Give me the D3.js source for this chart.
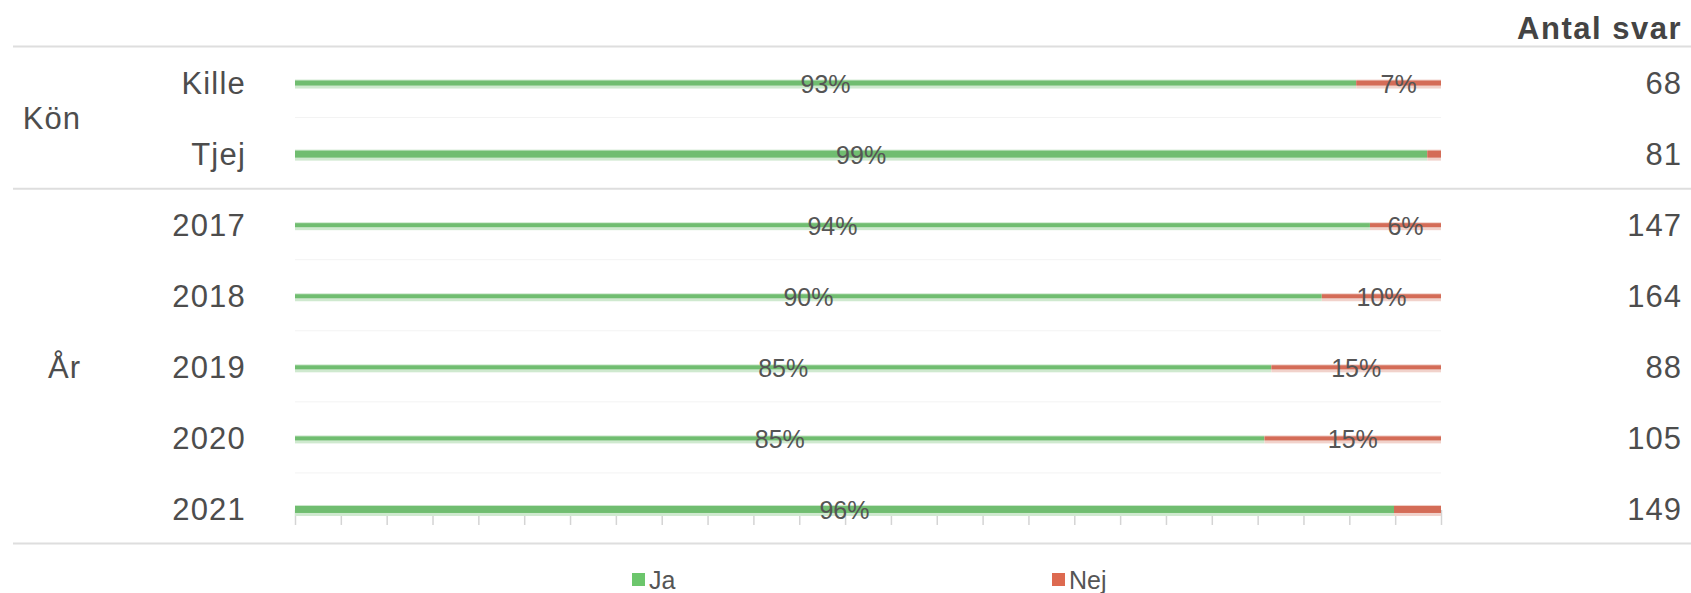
<!DOCTYPE html>
<html>
<head>
<meta charset="utf-8">
<script src="https://cdn.jsdelivr.net/npm/d3@7"></script>
<style>
  html, body { margin: 0; padding: 0; background: #ffffff; }
  svg { display: block; font-family: "Liberation Sans", Arial, sans-serif; }
</style>
</head>
<body>
<svg id="chart" width="1691" height="593"></svg>
<script>
// ---- data ----
const categories = ["Kille", "Tjej", "2017", "2018", "2019", "2020", "2021"];
const groupOf    = ["Kön", "Kön", "År", "År", "År", "År", "År"];
const groupNames = ["Kön", "År"];
const jaValues   = [92.6, 98.8, 93.8, 89.6, 85.2, 84.6, 95.9];
const nejValues  = [7.4, 1.2, 6.2, 10.4, 14.8, 15.4, 4.1];
const antalSvar  = [68, 81, 147, 164, 88, 105, 149];
const seriesNames = ["Ja", "Nej"];
const countHeader = "Antal svar";
const tickValues = d3.range(0, 101, 4);

// ---- styling / layout ----
const W = 1691, H = 593;
const colors = { Ja: "#70bd70", Nej: "#d46c57" };
const haloColors = { Ja: "#cfe9cf", Nej: "#f1d2cb" };
const legendColors = { Ja: "#6cc66c", Nej: "#dd6a50" };
const thickness = c => (c === "Tjej" || c === "2021") ? 7 : (c === "Kille" ? 5 : 4);
const textColor = "#4d4d4d";

const svg = d3.select("#chart");
svg.append("rect").attr("width", W).attr("height", H).attr("fill", "#fff");

const x = d3.scaleLinear().domain([0, 100]).range([295, 1441]);
const y = d3.scaleBand().domain(categories).range([47.5, 545]);

const rows = categories.map((c, i) => ({ cat: c, Ja: jaValues[i], Nej: nejValues[i], n: antalSvar[i], group: groupOf[i] }));
const stacked = d3.stack().keys(seriesNames)(rows);

// faint inner row gridlines
svg.append("g").selectAll("line")
  .data(categories.filter((c, i) => i > 0 && groupOf[i] === groupOf[i - 1]))
  .join("line")
  .attr("x1", x(0)).attr("x2", x(100))
  .attr("y1", d => y(d) - 1).attr("y2", d => y(d) - 1)
  .attr("stroke", "#f3f3f3").attr("stroke-width", 1);

// separators
const sepYs = [y.range()[0] - 1, y(categories[groupOf.indexOf("År")]) - 1, y.range()[1] - 1.5];
svg.append("g").selectAll("line").data(sepYs).join("line")
  .attr("x1", 13).attr("x2", W)
  .attr("y1", d => d).attr("y2", d => d)
  .attr("stroke", "#dedede").attr("stroke-width", 2);

// axis ticks under last row
const lastCat = categories[categories.length - 1];
const axisY = y(lastCat) + y.bandwidth() / 2 + thickness(lastCat) / 2 + 3;
const axisMinor = d3.axisBottom(x).tickValues(tickValues.filter(v => v % 20 !== 0)).tickSize(9).tickFormat("");
const axisMajor = d3.axisBottom(x).tickValues(tickValues.filter(v => v % 20 === 0)).tickSize(15).tickFormat("");
const gMinor = svg.append("g").attr("transform", `translate(0,${axisY})`).call(axisMinor);
const gMajor = svg.append("g").attr("transform", `translate(0,${axisY - 6})`).call(axisMajor);
[gMinor, gMajor].forEach(g => {
  g.select(".domain").remove();
  g.selectAll(".tick line").attr("stroke", "#d4d4d4").attr("stroke-width", 1.5);
});

// bars
const barG = svg.append("g");
stacked.forEach(series => {
  const key = series.key;
  const g = barG.append("g");
  g.selectAll("rect.halo").data(series).join("rect").attr("class", "halo")
    .attr("x", d => x(d[0])).attr("width", d => x(d[1]) - x(d[0]))
    .attr("y", d => y(d.data.cat) + y.bandwidth() / 2 - thickness(d.data.cat) / 2 - 1)
    .attr("height", d => thickness(d.data.cat) + 4)
    .attr("fill", haloColors[key]);
  g.selectAll("rect.bar").data(series).join("rect").attr("class", "bar")
    .attr("x", d => x(d[0])).attr("width", d => x(d[1]) - x(d[0]))
    .attr("y", d => y(d.data.cat) + y.bandwidth() / 2 - thickness(d.data.cat) / 2)
    .attr("height", d => thickness(d.data.cat))
    .attr("fill", colors[key]);
});

// percentage labels
stacked.forEach(series => {
  svg.append("g").selectAll("text").data(series.filter(d => d[1] - d[0] >= 5)).join("text")
    .attr("x", d => (x(d[0]) + x(d[1])) / 2)
    .attr("y", d => y(d.data.cat) + y.bandwidth() / 2 + 1)
    .attr("text-anchor", "middle").attr("dominant-baseline", "central")
    .attr("font-size", 25).attr("fill", "#555")
    .text(d => Math.round(d[1] - d[0]) + "%");
});

// category labels
svg.append("g").selectAll("text").data(categories).join("text")
  .attr("x", 246).attr("y", d => y(d) + y.bandwidth() / 2)
  .attr("text-anchor", "end").attr("dominant-baseline", "central")
  .attr("font-size", 31).attr("letter-spacing", 1.2).attr("fill", textColor)
  .text(d => d);

// group labels
svg.append("g").selectAll("text").data(groupNames).join("text")
  .attr("x", 81)
  .attr("y", gname => {
    const cs = categories.filter((c, i) => groupOf[i] === gname);
    return (y(cs[0]) + y(cs[cs.length - 1]) + y.bandwidth()) / 2;
  })
  .attr("text-anchor", "end").attr("dominant-baseline", "central")
  .attr("font-size", 31).attr("letter-spacing", 1).attr("fill", textColor)
  .text(d => d);

// counts
svg.append("g").selectAll("text").data(rows).join("text")
  .attr("x", 1682).attr("y", d => y(d.cat) + y.bandwidth() / 2)
  .attr("text-anchor", "end").attr("dominant-baseline", "central")
  .attr("font-size", 31).attr("letter-spacing", 1).attr("fill", textColor)
  .text(d => d.n);

// header
svg.append("text").attr("x", 1682).attr("y", 39)
  .attr("text-anchor", "end").attr("font-size", 31).attr("font-weight", "bold")
  .attr("letter-spacing", 1.5).attr("fill", "#444")
  .text(countHeader);

// legend
const legendX = d3.scalePoint().domain(seriesNames).range([632, 1052]);
const lg = svg.append("g").selectAll("g").data(seriesNames).join("g")
  .attr("transform", d => `translate(${legendX(d)},573)`);
lg.append("rect").attr("width", 13).attr("height", 13).attr("fill", d => legendColors[d]);
lg.append("text").attr("x", 17).attr("y", 7).attr("dominant-baseline", "central")
  .attr("font-size", 25).attr("fill", "#555").text(d => d);
</script>
</body>
</html>
